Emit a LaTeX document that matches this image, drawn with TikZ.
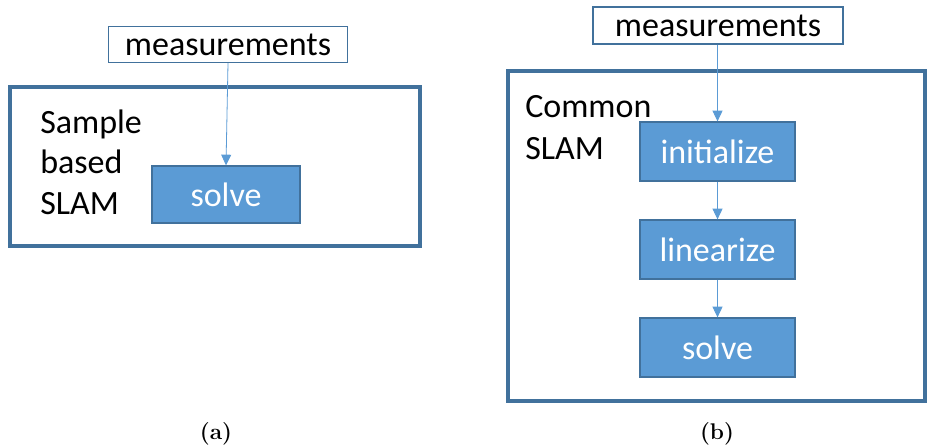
\documentclass[tikz,border=0pt]{standalone}
\usepackage{fontspec}
\newfontfamily\carl{Carlito}
\usetikzlibrary{arrows.meta}
\definecolor{boxblue}{HTML}{5B9BD5}
\definecolor{edgeblue}{HTML}{41719C}
\tikzset{
  frame/.style={draw=edgeblue, line width=2.4pt},
  measbox/.style={draw=edgeblue, line width=1.1pt, fill=white, inner sep=0pt, font=\carl\fontsize{25.5}{30}\selectfont},
  bluebox/.style={draw=edgeblue, line width=1pt, fill=boxblue, text=white, inner sep=0pt, font=\carl\fontsize{25.5}{30}\selectfont},
  lbl/.style={anchor=base west, inner sep=0pt, font=\carl\fontsize{25.5}{30}\selectfont},
  captext/.style={inner sep=0pt, font=\fontsize{17}{20}\selectfont\bfseries},
  flow/.style={draw=boxblue, line width=0.6pt, -{Triangle[length=8pt,width=7.5pt]}}
}
\begin{document}
\begin{tikzpicture}[x=0.75pt,y=-0.75pt]
\useasboundingbox (0,0) rectangle (927,444);
% left panel
\draw[frame] (10,87) rectangle (420,246);
\node[measbox, minimum width=239*0.75pt, minimum height=36*0.75pt] (m1) at (228,44.5) {measurements};
\node[bluebox, minimum width=148*0.75pt, minimum height=57*0.75pt] (s1) at (226,194.5) {solve};
\node[lbl] (t1) at (40,133) {Sample};
\node[lbl] (t2) at (40,173) {based};
\node[lbl] (t3) at (40,214) {SLAM};
\draw[flow] (m1.south) -- (s1.north);
\node[captext] (ca) at (216,434) {(a)};
% right panel
\draw[frame] (508,71) rectangle (925,401);
\node[measbox, minimum width=250*0.75pt, minimum height=37*0.75pt] (m2) at (718,25.5) {measurements};
\node[bluebox, minimum width=155*0.75pt, minimum height=59*0.75pt] (i2) at (717.5,151.5) {initialize};
\node[bluebox, minimum width=155*0.75pt, minimum height=59*0.75pt] (l2) at (717.5,249.5) {linearize};
\node[bluebox, minimum width=155*0.75pt, minimum height=59*0.75pt] (s2) at (717.5,347.5) {solve};
\node[lbl] (c1) at (525,117) {Common};
\node[lbl] (c2) at (525,159) {SLAM};
\draw[flow] (m2.south -| i2.north) -- (i2.north);
\draw[flow] (i2) -- (l2);
\draw[flow] (l2) -- (s2);
\node[captext] (cb) at (717,434) {(b)};
\end{tikzpicture}
\end{document}
